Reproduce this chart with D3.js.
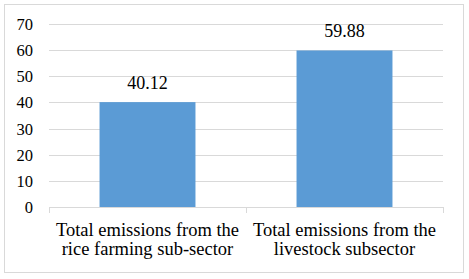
<!DOCTYPE html>
<html><head><meta charset="utf-8">
<script src="https://cdn.jsdelivr.net/npm/d3@7"></script>
<style>body{margin:0;background:#fff}svg{display:block}</style>
</head><body><svg id="c" width="469" height="279"></svg>
<script>
const categories = [["Total emissions from the","rice farming sub-sector"],["Total emissions from the","livestock subsector"]];
const values = [40.12, 59.88];
const yTicks = [0,10,20,30,40,50,60,70];

(function(){
const svg = d3.select("#c");
const font = "Liberation Serif";
svg.append("rect").attr("x",4.5).attr("y",4.5).attr("width",459).attr("height",268)
  .attr("fill","#fff").attr("stroke","#d9d9d9");

const pL=49, pR=443, pT=24, pB=207;
const x = d3.scaleBand().domain(d3.range(values.length)).range([pL,pR]).paddingInner(0.513).paddingOuter(0.2565);
const y = d3.scaleLinear().domain([0,70]).range([pB,pT]);

svg.append("g").selectAll("line").data(yTicks.filter(d=>d>0)).join("line")
  .attr("x1",pL).attr("x2",pR).attr("y1",d=>Math.round(y(d))+0.5).attr("y2",d=>Math.round(y(d))+0.5)
  .attr("stroke","#d9d9d9");

svg.append("g").selectAll("rect").data(values).join("rect")
  .attr("x",(d,i)=>x(i)).attr("width",x.bandwidth())
  .attr("y",d=>y(d)).attr("height",d=>pB-y(d)).attr("fill","#5b9bd5");

svg.append("line").attr("x1",pL).attr("x2",pR).attr("y1",pB+0.5).attr("y2",pB+0.5).attr("stroke","#d9d9d9");
const step = x.step();
svg.append("g").selectAll("line").data(d3.range(values.length+1)).join("line")
  .attr("x1",d=>Math.round(pL+d*step)+0.5).attr("x2",d=>Math.round(pL+d*step)+0.5)
  .attr("y1",pB).attr("y2",pB+6).attr("stroke","#d9d9d9");

svg.append("g").selectAll("text").data(yTicks).join("text")
  .attr("x",33).attr("y",d=>y(d)+6).attr("text-anchor","end")
  .style("font-family",font).style("font-size","16.5px").attr("fill","#000").text(d=>d);

svg.append("g").selectAll("text").data(values).join("text")
  .attr("x",(d,i)=>x(i)+x.bandwidth()/2).attr("y",d=>y(d)-13).attr("text-anchor","middle")
  .style("font-family",font).style("font-size","18px").attr("fill","#000").text(d=>d.toFixed(2));

const cg = svg.append("g").selectAll("text").data(categories).join("text")
  .attr("x",(d,i)=>x(i)+x.bandwidth()/2).attr("y",236).attr("text-anchor","middle")
  .style("font-family",font).style("font-size","18.5px").attr("fill","#000");
cg.selectAll("tspan").data(d=>d).join("tspan")
  .attr("x",function(){return this.parentNode.getAttribute("x");})
  .attr("dy",(d,i)=>i?18.7:0).text(d=>d);
})();
</script></body></html>
